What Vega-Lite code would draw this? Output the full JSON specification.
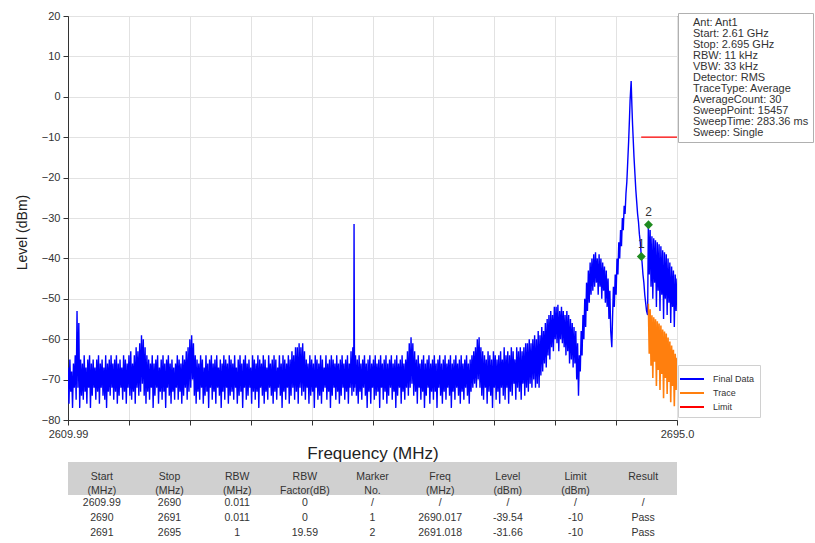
{
  "$schema": "https://vega.github.io/schema/vega-lite/v6.json",
  "background": "white",
  "padding": {"left": 14, "top": 9, "right": 2, "bottom": 2},
  "spacing": 0,
  "config": {
    "font": "Liberation Sans",
    "view": {"stroke": null},
    "axis": {"labelFont": "Liberation Sans", "titleFont": "Liberation Sans"}
  },
  "datasets": {
    "fd": [
      {"f":2610,"v":-67},{"f":2610.125,"v":-76},{"f":2610.25,"v":-65},{"f":2610.375,"v":-73},{"f":2610.5,"v":-68},{"f":2610.625,"v":-77},{"f":2610.75,"v":-66},{"f":2610.875,"v":-72},
      {"f":2611,"v":-64},{"f":2611.125,"v":-75},{"f":2611.25,"v":-53},{"f":2611.375,"v":-72},{"f":2611.5,"v":-56},{"f":2611.625,"v":-77},{"f":2611.75,"v":-65},{"f":2611.875,"v":-74},
      {"f":2612,"v":-66},{"f":2612.125,"v":-75},{"f":2612.25,"v":-64},{"f":2612.375,"v":-73},{"f":2612.5,"v":-67},{"f":2612.625,"v":-76},{"f":2612.75,"v":-65},{"f":2612.875,"v":-72},
      {"f":2613,"v":-64},{"f":2613.125,"v":-77},{"f":2613.25,"v":-66},{"f":2613.375,"v":-74},{"f":2613.5,"v":-65},{"f":2613.625,"v":-72},{"f":2613.75,"v":-67},{"f":2613.875,"v":-75},
      {"f":2614,"v":-65},{"f":2614.125,"v":-73},{"f":2614.25,"v":-64},{"f":2614.375,"v":-76},{"f":2614.5,"v":-66},{"f":2614.625,"v":-72},{"f":2614.75,"v":-65},{"f":2614.875,"v":-74},
      {"f":2615,"v":-67},{"f":2615.125,"v":-75},{"f":2615.25,"v":-64},{"f":2615.375,"v":-77},{"f":2615.5,"v":-66},{"f":2615.625,"v":-73},{"f":2615.75,"v":-65},{"f":2615.875,"v":-74},
      {"f":2616,"v":-64},{"f":2616.125,"v":-72},{"f":2616.25,"v":-66},{"f":2616.375,"v":-75},{"f":2616.5,"v":-65},{"f":2616.625,"v":-73},{"f":2616.75,"v":-64},{"f":2616.875,"v":-76},
      {"f":2617,"v":-66},{"f":2617.125,"v":-74},{"f":2617.25,"v":-65},{"f":2617.375,"v":-72},{"f":2617.5,"v":-67},{"f":2617.625,"v":-75},{"f":2617.75,"v":-64},{"f":2617.875,"v":-73},
      {"f":2618,"v":-65},{"f":2618.125,"v":-76},{"f":2618.25,"v":-66},{"f":2618.375,"v":-72},{"f":2618.5,"v":-64},{"f":2618.625,"v":-74},{"f":2618.75,"v":-63},{"f":2618.875,"v":-75},
      {"f":2619,"v":-66},{"f":2619.125,"v":-73},{"f":2619.25,"v":-64},{"f":2619.375,"v":-76},{"f":2619.5,"v":-62},{"f":2619.625,"v":-72},{"f":2619.75,"v":-63},{"f":2619.875,"v":-74},
      {"f":2620,"v":-61},{"f":2620.125,"v":-73},{"f":2620.25,"v":-59},{"f":2620.375,"v":-71},{"f":2620.5,"v":-60},{"f":2620.625,"v":-74},{"f":2620.75,"v":-62},{"f":2620.875,"v":-76},
      {"f":2621,"v":-64},{"f":2621.125,"v":-73},{"f":2621.25,"v":-65},{"f":2621.375,"v":-75},{"f":2621.5,"v":-66},{"f":2621.625,"v":-72},{"f":2621.75,"v":-64},{"f":2621.875,"v":-77},
      {"f":2622,"v":-66},{"f":2622.125,"v":-74},{"f":2622.25,"v":-65},{"f":2622.375,"v":-72},{"f":2622.5,"v":-64},{"f":2622.625,"v":-76},{"f":2622.75,"v":-67},{"f":2622.875,"v":-73},
      {"f":2623,"v":-65},{"f":2623.125,"v":-75},{"f":2623.25,"v":-64},{"f":2623.375,"v":-73},{"f":2623.5,"v":-66},{"f":2623.625,"v":-77},{"f":2623.75,"v":-65},{"f":2623.875,"v":-72},
      {"f":2624,"v":-64},{"f":2624.125,"v":-74},{"f":2624.25,"v":-66},{"f":2624.375,"v":-76},{"f":2624.5,"v":-65},{"f":2624.625,"v":-73},{"f":2624.75,"v":-67},{"f":2624.875,"v":-75},
      {"f":2625,"v":-66},{"f":2625.125,"v":-72},{"f":2625.25,"v":-64},{"f":2625.375,"v":-75},{"f":2625.5,"v":-65},{"f":2625.625,"v":-73},{"f":2625.75,"v":-66},{"f":2625.875,"v":-76},
      {"f":2626,"v":-64},{"f":2626.125,"v":-74},{"f":2626.25,"v":-65},{"f":2626.375,"v":-72},{"f":2626.5,"v":-63},{"f":2626.625,"v":-75},{"f":2626.75,"v":-62},{"f":2626.875,"v":-73},
      {"f":2627,"v":-60},{"f":2627.125,"v":-72},{"f":2627.25,"v":-59},{"f":2627.375,"v":-70},{"f":2627.5,"v":-61},{"f":2627.625,"v":-74},{"f":2627.75,"v":-64},{"f":2627.875,"v":-76},
      {"f":2628,"v":-65},{"f":2628.125,"v":-73},{"f":2628.25,"v":-66},{"f":2628.375,"v":-75},{"f":2628.5,"v":-64},{"f":2628.625,"v":-72},{"f":2628.75,"v":-65},{"f":2628.875,"v":-76},
      {"f":2629,"v":-67},{"f":2629.125,"v":-74},{"f":2629.25,"v":-64},{"f":2629.375,"v":-73},{"f":2629.5,"v":-66},{"f":2629.625,"v":-77},{"f":2629.75,"v":-65},{"f":2629.875,"v":-72},
      {"f":2630,"v":-64},{"f":2630.125,"v":-75},{"f":2630.25,"v":-66},{"f":2630.375,"v":-73},{"f":2630.5,"v":-65},{"f":2630.625,"v":-76},{"f":2630.75,"v":-64},{"f":2630.875,"v":-72},
      {"f":2631,"v":-67},{"f":2631.125,"v":-74},{"f":2631.25,"v":-65},{"f":2631.375,"v":-77},{"f":2631.5,"v":-66},{"f":2631.625,"v":-73},{"f":2631.75,"v":-64},{"f":2631.875,"v":-75},
      {"f":2632,"v":-65},{"f":2632.125,"v":-72},{"f":2632.25,"v":-66},{"f":2632.375,"v":-76},{"f":2632.5,"v":-64},{"f":2632.625,"v":-74},{"f":2632.75,"v":-65},{"f":2632.875,"v":-73},
      {"f":2633,"v":-66},{"f":2633.125,"v":-75},{"f":2633.25,"v":-64},{"f":2633.375,"v":-72},{"f":2633.5,"v":-67},{"f":2633.625,"v":-76},{"f":2633.75,"v":-65},{"f":2633.875,"v":-74},
      {"f":2634,"v":-64},{"f":2634.125,"v":-73},{"f":2634.25,"v":-66},{"f":2634.375,"v":-77},{"f":2634.5,"v":-65},{"f":2634.625,"v":-72},{"f":2634.75,"v":-64},{"f":2634.875,"v":-75},
      {"f":2635,"v":-66},{"f":2635.125,"v":-74},{"f":2635.25,"v":-65},{"f":2635.375,"v":-72},{"f":2635.5,"v":-67},{"f":2635.625,"v":-76},{"f":2635.75,"v":-64},{"f":2635.875,"v":-73},
      {"f":2636,"v":-65},{"f":2636.125,"v":-75},{"f":2636.25,"v":-66},{"f":2636.375,"v":-73},{"f":2636.5,"v":-64},{"f":2636.625,"v":-77},{"f":2636.75,"v":-65},{"f":2636.875,"v":-72},
      {"f":2637,"v":-66},{"f":2637.125,"v":-74},{"f":2637.25,"v":-64},{"f":2637.375,"v":-76},{"f":2637.5,"v":-65},{"f":2637.625,"v":-73},{"f":2637.75,"v":-67},{"f":2637.875,"v":-75},
      {"f":2638,"v":-64},{"f":2638.125,"v":-72},{"f":2638.25,"v":-66},{"f":2638.375,"v":-74},{"f":2638.5,"v":-65},{"f":2638.625,"v":-76},{"f":2638.75,"v":-64},{"f":2638.875,"v":-73},
      {"f":2639,"v":-65},{"f":2639.125,"v":-75},{"f":2639.25,"v":-67},{"f":2639.375,"v":-72},{"f":2639.5,"v":-64},{"f":2639.625,"v":-74},{"f":2639.75,"v":-66},{"f":2639.875,"v":-77},
      {"f":2640,"v":-64},{"f":2640.125,"v":-73},{"f":2640.25,"v":-65},{"f":2640.375,"v":-75},{"f":2640.5,"v":-66},{"f":2640.625,"v":-72},{"f":2640.75,"v":-64},{"f":2640.875,"v":-76},
      {"f":2641,"v":-65},{"f":2641.125,"v":-74},{"f":2641.25,"v":-63},{"f":2641.375,"v":-72},{"f":2641.5,"v":-64},{"f":2641.625,"v":-75},{"f":2641.75,"v":-62},{"f":2641.875,"v":-73},
      {"f":2642,"v":-62},{"f":2642.125,"v":-76},{"f":2642.25,"v":-61},{"f":2642.375,"v":-72},{"f":2642.5,"v":-62},{"f":2642.625,"v":-74},{"f":2642.75,"v":-61},{"f":2642.875,"v":-73},
      {"f":2643,"v":-63},{"f":2643.125,"v":-75},{"f":2643.25,"v":-65},{"f":2643.375,"v":-72},{"f":2643.5,"v":-66},{"f":2643.625,"v":-76},{"f":2643.75,"v":-64},{"f":2643.875,"v":-74},
      {"f":2644,"v":-65},{"f":2644.125,"v":-73},{"f":2644.25,"v":-66},{"f":2644.375,"v":-77},{"f":2644.5,"v":-64},{"f":2644.625,"v":-72},{"f":2644.75,"v":-65},{"f":2644.875,"v":-75},
      {"f":2645,"v":-66},{"f":2645.125,"v":-74},{"f":2645.25,"v":-64},{"f":2645.375,"v":-76},{"f":2645.5,"v":-65},{"f":2645.625,"v":-73},{"f":2645.75,"v":-67},{"f":2645.875,"v":-72},
      {"f":2646,"v":-64},{"f":2646.125,"v":-75},{"f":2646.25,"v":-66},{"f":2646.375,"v":-73},{"f":2646.5,"v":-65},{"f":2646.625,"v":-77},{"f":2646.75,"v":-64},{"f":2646.875,"v":-74},
      {"f":2647,"v":-65},{"f":2647.125,"v":-72},{"f":2647.25,"v":-66},{"f":2647.375,"v":-75},{"f":2647.5,"v":-64},{"f":2647.625,"v":-73},{"f":2647.75,"v":-66},{"f":2647.875,"v":-76},
      {"f":2648,"v":-65},{"f":2648.125,"v":-74},{"f":2648.25,"v":-64},{"f":2648.375,"v":-72},{"f":2648.5,"v":-66},{"f":2648.625,"v":-75},{"f":2648.75,"v":-65},{"f":2648.875,"v":-73},
      {"f":2649,"v":-64},{"f":2649.125,"v":-76},{"f":2649.25,"v":-66},{"f":2649.375,"v":-72},{"f":2649.5,"v":-63},{"f":2649.625,"v":-74},{"f":2649.75,"v":-62},{"f":2649.875,"v":-73},
      {"f":2649.92,"v":-31.5},{"f":2649.97,"v":-62},
      {"f":2650,"v":-72},{"f":2650.125,"v":-64},{"f":2650.25,"v":-74},{"f":2650.375,"v":-65},{"f":2650.5,"v":-76},{"f":2650.625,"v":-64},{"f":2650.75,"v":-73},{"f":2650.875,"v":-66},
      {"f":2651,"v":-75},{"f":2651.125,"v":-65},{"f":2651.25,"v":-72},{"f":2651.375,"v":-64},{"f":2651.5,"v":-74},{"f":2651.625,"v":-66},{"f":2651.75,"v":-77},{"f":2651.875,"v":-65},
      {"f":2652,"v":-73},{"f":2652.125,"v":-64},{"f":2652.25,"v":-76},{"f":2652.375,"v":-66},{"f":2652.5,"v":-72},{"f":2652.625,"v":-65},{"f":2652.75,"v":-75},{"f":2652.875,"v":-64},
      {"f":2653,"v":-74},{"f":2653.125,"v":-66},{"f":2653.25,"v":-73},{"f":2653.375,"v":-65},{"f":2653.5,"v":-77},{"f":2653.625,"v":-64},{"f":2653.75,"v":-72},{"f":2653.875,"v":-66},
      {"f":2654,"v":-75},{"f":2654.125,"v":-65},{"f":2654.25,"v":-73},{"f":2654.375,"v":-64},{"f":2654.5,"v":-76},{"f":2654.625,"v":-66},{"f":2654.75,"v":-74},{"f":2654.875,"v":-65},
      {"f":2655,"v":-72},{"f":2655.125,"v":-64},{"f":2655.25,"v":-75},{"f":2655.375,"v":-66},{"f":2655.5,"v":-73},{"f":2655.625,"v":-65},{"f":2655.75,"v":-77},{"f":2655.875,"v":-64},
      {"f":2656,"v":-74},{"f":2656.125,"v":-66},{"f":2656.25,"v":-72},{"f":2656.375,"v":-65},{"f":2656.5,"v":-76},{"f":2656.625,"v":-64},{"f":2656.75,"v":-73},{"f":2656.875,"v":-66},
      {"f":2657,"v":-75},{"f":2657.125,"v":-65},{"f":2657.25,"v":-72},{"f":2657.375,"v":-63},{"f":2657.5,"v":-74},{"f":2657.625,"v":-61},{"f":2657.75,"v":-72},{"f":2657.875,"v":-59.5},
      {"f":2658,"v":-71},{"f":2658.125,"v":-61},{"f":2658.25,"v":-74},{"f":2658.375,"v":-63},{"f":2658.5,"v":-73},{"f":2658.625,"v":-65},{"f":2658.75,"v":-76},{"f":2658.875,"v":-64},
      {"f":2659,"v":-72},{"f":2659.125,"v":-66},{"f":2659.25,"v":-75},{"f":2659.375,"v":-65},{"f":2659.5,"v":-73},{"f":2659.625,"v":-64},{"f":2659.75,"v":-77},{"f":2659.875,"v":-66},
      {"f":2660,"v":-74},{"f":2660.125,"v":-65},{"f":2660.25,"v":-72},{"f":2660.375,"v":-64},{"f":2660.5,"v":-76},{"f":2660.625,"v":-66},{"f":2660.75,"v":-73},{"f":2660.875,"v":-65},
      {"f":2661,"v":-75},{"f":2661.125,"v":-64},{"f":2661.25,"v":-73},{"f":2661.375,"v":-66},{"f":2661.5,"v":-77},{"f":2661.625,"v":-65},{"f":2661.75,"v":-72},{"f":2661.875,"v":-64},
      {"f":2662,"v":-74},{"f":2662.125,"v":-66},{"f":2662.25,"v":-76},{"f":2662.375,"v":-65},{"f":2662.5,"v":-73},{"f":2662.625,"v":-64},{"f":2662.75,"v":-75},{"f":2662.875,"v":-66},
      {"f":2663,"v":-72},{"f":2663.125,"v":-65},{"f":2663.25,"v":-74},{"f":2663.375,"v":-64},{"f":2663.5,"v":-77},{"f":2663.625,"v":-66},{"f":2663.75,"v":-73},{"f":2663.875,"v":-65},
      {"f":2664,"v":-75},{"f":2664.125,"v":-64},{"f":2664.25,"v":-72},{"f":2664.375,"v":-66},{"f":2664.5,"v":-74},{"f":2664.625,"v":-65},{"f":2664.75,"v":-76},{"f":2664.875,"v":-64},
      {"f":2665,"v":-73},{"f":2665.125,"v":-66},{"f":2665.25,"v":-75},{"f":2665.375,"v":-65},{"f":2665.5,"v":-72},{"f":2665.625,"v":-64},{"f":2665.75,"v":-74},{"f":2665.875,"v":-66},
      {"f":2666,"v":-76},{"f":2666.125,"v":-65},{"f":2666.25,"v":-73},{"f":2666.375,"v":-64},{"f":2666.5,"v":-72},{"f":2666.625,"v":-63},{"f":2666.75,"v":-71},{"f":2666.875,"v":-62},
      {"f":2667,"v":-72},{"f":2667.125,"v":-60},{"f":2667.25,"v":-70},{"f":2667.375,"v":-59.5},{"f":2667.5,"v":-72},{"f":2667.625,"v":-62},{"f":2667.75,"v":-74},{"f":2667.875,"v":-63},
      {"f":2668,"v":-75},{"f":2668.125,"v":-64},{"f":2668.25,"v":-72},{"f":2668.375,"v":-65},{"f":2668.5,"v":-76},{"f":2668.625,"v":-63},{"f":2668.75,"v":-73},{"f":2668.875,"v":-64},
      {"f":2669,"v":-74},{"f":2669.125,"v":-65},{"f":2669.25,"v":-77},{"f":2669.375,"v":-63},{"f":2669.5,"v":-72},{"f":2669.625,"v":-64},{"f":2669.75,"v":-75},{"f":2669.875,"v":-65},
      {"f":2670,"v":-73},{"f":2670.125,"v":-64},{"f":2670.25,"v":-76},{"f":2670.375,"v":-63},{"f":2670.5,"v":-72},{"f":2670.625,"v":-65},{"f":2670.75,"v":-74},{"f":2670.875,"v":-62},
      {"f":2671,"v":-75},{"f":2671.125,"v":-64},{"f":2671.25,"v":-72},{"f":2671.375,"v":-63},{"f":2671.5,"v":-76},{"f":2671.625,"v":-64},{"f":2671.75,"v":-73},{"f":2671.875,"v":-62},
      {"f":2672,"v":-74},{"f":2672.125,"v":-63},{"f":2672.25,"v":-71},{"f":2672.375,"v":-65},{"f":2672.5,"v":-75},{"f":2672.625,"v":-62},{"f":2672.75,"v":-72},{"f":2672.875,"v":-63},
      {"f":2673,"v":-73},{"f":2673.125,"v":-62},{"f":2673.25,"v":-75},{"f":2673.375,"v":-63},{"f":2673.5,"v":-71},{"f":2673.625,"v":-62},{"f":2673.75,"v":-74},{"f":2673.875,"v":-61},
      {"f":2674,"v":-72},{"f":2674.125,"v":-61},{"f":2674.25,"v":-73},{"f":2674.375,"v":-60},{"f":2674.5,"v":-71},{"f":2674.625,"v":-61},{"f":2674.75,"v":-72},{"f":2674.875,"v":-60},
      {"f":2675,"v":-70},{"f":2675.125,"v":-59},{"f":2675.25,"v":-72},{"f":2675.375,"v":-60},{"f":2675.5,"v":-71},{"f":2675.625,"v":-58},{"f":2675.75,"v":-72},{"f":2675.875,"v":-59},
      {"f":2676,"v":-69},{"f":2676.125,"v":-57},{"f":2676.25,"v":-68},{"f":2676.375,"v":-58},{"f":2676.5,"v":-66},{"f":2676.625,"v":-56},{"f":2676.75,"v":-67},{"f":2676.875,"v":-55},
      {"f":2677,"v":-64},{"f":2677.125,"v":-54},{"f":2677.25,"v":-65},{"f":2677.375,"v":-53},{"f":2677.5,"v":-62},{"f":2677.625,"v":-54},{"f":2677.75,"v":-63},{"f":2677.875,"v":-52},
      {"f":2678,"v":-60},{"f":2678.125,"v":-52},{"f":2678.25,"v":-61},{"f":2678.375,"v":-51.5},{"f":2678.5,"v":-63},{"f":2678.625,"v":-53},{"f":2678.75,"v":-60},{"f":2678.875,"v":-52},
      {"f":2679,"v":-61},{"f":2679.125,"v":-53},{"f":2679.25,"v":-62},{"f":2679.375,"v":-54},{"f":2679.5,"v":-64},{"f":2679.625,"v":-53},{"f":2679.75,"v":-63},{"f":2679.875,"v":-54},
      {"f":2680,"v":-66},{"f":2680.125,"v":-55},{"f":2680.25,"v":-65},{"f":2680.375,"v":-56},{"f":2680.5,"v":-67},{"f":2680.625,"v":-57},{"f":2680.75,"v":-66},{"f":2680.875,"v":-58},
      {"f":2681,"v":-70},{"f":2681.125,"v":-61},{"f":2681.25,"v":-74},{"f":2681.375,"v":-64},{"f":2681.5,"v":-68},{"f":2681.625,"v":-58},{"f":2681.75,"v":-64},{"f":2681.875,"v":-54},
      {"f":2682,"v":-60},{"f":2682.125,"v":-50},{"f":2682.25,"v":-57},{"f":2682.375,"v":-46},{"f":2682.5,"v":-53},{"f":2682.625,"v":-43},{"f":2682.75,"v":-51},{"f":2682.875,"v":-41},
      {"f":2683,"v":-49},{"f":2683.125,"v":-40},{"f":2683.25,"v":-48},{"f":2683.375,"v":-39},{"f":2683.5,"v":-47},{"f":2683.625,"v":-38.5},{"f":2683.75,"v":-46},{"f":2683.875,"v":-40},
      {"f":2684,"v":-49},{"f":2684.125,"v":-39},{"f":2684.25,"v":-47},{"f":2684.375,"v":-40},{"f":2684.5,"v":-50},{"f":2684.625,"v":-41},{"f":2684.75,"v":-48},{"f":2684.875,"v":-42},
      {"f":2685,"v":-51},{"f":2685.125,"v":-43},{"f":2685.25,"v":-52},{"f":2685.375,"v":-45},{"f":2685.5,"v":-55},{"f":2685.625,"v":-48},{"f":2685.75,"v":-58},{"f":2685.9,"v":-62},
      {"f":2686,"v":-55},{"f":2686.125,"v":-47},{"f":2686.25,"v":-52},{"f":2686.375,"v":-44},{"f":2686.5,"v":-49},{"f":2686.625,"v":-40},{"f":2686.75,"v":-44},{"f":2686.875,"v":-36},
      {"f":2687,"v":-40},{"f":2687.125,"v":-33},{"f":2687.25,"v":-37},{"f":2687.375,"v":-30},{"f":2687.5,"v":-33},{"f":2687.625,"v":-27},{"f":2687.75,"v":-29},{"f":2687.875,"v":-24},
      {"f":2688,"v":-21},{"f":2688.125,"v":-16},{"f":2688.25,"v":-11},{"f":2688.375,"v":-5},{"f":2688.45,"v":-1},{"f":2688.6,"v":3.9},{"f":2688.7,"v":-2},{"f":2688.8,"v":-7},
      {"f":2689,"v":-15},{"f":2689.125,"v":-19},{"f":2689.25,"v":-23},{"f":2689.375,"v":-26},{"f":2689.5,"v":-29},{"f":2689.625,"v":-31},{"f":2689.75,"v":-34},{"f":2689.875,"v":-36},
      {"f":2690,"v":-39},{"f":2690.125,"v":-41},{"f":2690.25,"v":-44},{"f":2690.375,"v":-46},{"f":2690.5,"v":-49},{"f":2690.625,"v":-51},{"f":2690.75,"v":-53},{"f":2690.9,"v":-54},
      {"f":2691,"v":-31.66},{"f":2691.125,"v":-44},{"f":2691.25,"v":-33},{"f":2691.375,"v":-47},{"f":2691.5,"v":-34.5},{"f":2691.625,"v":-50},{"f":2691.75,"v":-35},{"f":2691.875,"v":-46},
      {"f":2692,"v":-35.5},{"f":2692.125,"v":-52},{"f":2692.25,"v":-36},{"f":2692.375,"v":-48},{"f":2692.5,"v":-36.5},{"f":2692.625,"v":-53},{"f":2692.75,"v":-37},{"f":2692.875,"v":-49},
      {"f":2693,"v":-38},{"f":2693.125,"v":-55},{"f":2693.25,"v":-38.5},{"f":2693.375,"v":-50},{"f":2693.5,"v":-39},{"f":2693.625,"v":-54},{"f":2693.75,"v":-40},{"f":2693.875,"v":-51},
      {"f":2694,"v":-41},{"f":2694.125,"v":-56},{"f":2694.25,"v":-42},{"f":2694.375,"v":-52},{"f":2694.5,"v":-43},{"f":2694.625,"v":-57},{"f":2694.75,"v":-44},{"f":2694.875,"v":-53},
      {"f":2695,"v":-45}
    ],
    "tr": [
      {"f":2691,"v":-51.25},{"f":2691.125,"v":-63.59},{"f":2691.25,"v":-52.59},{"f":2691.375,"v":-66.59},{"f":2691.5,"v":-54.09},{"f":2691.625,"v":-69.59},{"f":2691.75,"v":-54.59},{"f":2691.875,"v":-65.59},
      {"f":2692,"v":-55.09},{"f":2692.125,"v":-71.59},{"f":2692.25,"v":-55.59},{"f":2692.375,"v":-67.59},{"f":2692.5,"v":-56.09},{"f":2692.625,"v":-72.59},{"f":2692.75,"v":-56.59},{"f":2692.875,"v":-68.59},
      {"f":2693,"v":-57.59},{"f":2693.125,"v":-74.59},{"f":2693.25,"v":-58.09},{"f":2693.375,"v":-69.59},{"f":2693.5,"v":-58.59},{"f":2693.625,"v":-73.59},{"f":2693.75,"v":-59.59},{"f":2693.875,"v":-70.59},
      {"f":2694,"v":-60.59},{"f":2694.125,"v":-75.59},{"f":2694.25,"v":-61.59},{"f":2694.375,"v":-71.59},{"f":2694.5,"v":-62.59},{"f":2694.625,"v":-76.59},{"f":2694.75,"v":-63.59},{"f":2694.875,"v":-72.59},
      {"f":2695,"v":-64.59}
    ],
    "lim": [{"f":2690,"v":-10},{"f":2695,"v":-10}],
    "mk": [{"f":2690.017,"v":-39.54,"n":"1"},{"f":2691.018,"v":-31.66,"n":"2"}],
    "info": [
      {"t":"Ant: Ant1"},{"t":"Start: 2.61 GHz"},{"t":"Stop: 2.695 GHz"},{"t":"RBW: 11 kHz"},{"t":"VBW: 33 kHz"},{"t":"Detector: RMS"},
      {"t":"TraceType: Average"},{"t":"AverageCount: 30"},{"t":"SweepPoint: 15457"},{"t":"SweepTime: 283.36 ms"},{"t":"Sweep: Single"}
    ],
    "hdr": [
      {"c":"Start","t":"Start\n(MHz)"},{"c":"Stop","t":"Stop\n(MHz)"},{"c":"RBW","t":"RBW\n(MHz)"},{"c":"RBW Factor","t":"RBW\nFactor(dB)"},
      {"c":"Marker No.","t":"Marker\nNo."},{"c":"Freq","t":"Freq\n(MHz)"},{"c":"Level","t":"Level\n(dBm)"},{"c":"Limit","t":"Limit\n(dBm)"},{"c":"Result","t":"Result"}
    ],
    "tbl": [
      {"r":1,"c":"Start","t":"2609.99"},{"r":1,"c":"Stop","t":"2690"},{"r":1,"c":"RBW","t":"0.011"},{"r":1,"c":"RBW Factor","t":"0"},{"r":1,"c":"Marker No.","t":"/"},{"r":1,"c":"Freq","t":"/"},{"r":1,"c":"Level","t":"/"},{"r":1,"c":"Limit","t":"/"},{"r":1,"c":"Result","t":"/"},
      {"r":2,"c":"Start","t":"2690"},{"r":2,"c":"Stop","t":"2691"},{"r":2,"c":"RBW","t":"0.011"},{"r":2,"c":"RBW Factor","t":"0"},{"r":2,"c":"Marker No.","t":"1"},{"r":2,"c":"Freq","t":"2690.017"},{"r":2,"c":"Level","t":"-39.54"},{"r":2,"c":"Limit","t":"-10"},{"r":2,"c":"Result","t":"Pass"},
      {"r":3,"c":"Start","t":"2691"},{"r":3,"c":"Stop","t":"2695"},{"r":3,"c":"RBW","t":"1"},{"r":3,"c":"RBW Factor","t":"19.59"},{"r":3,"c":"Marker No.","t":"2"},{"r":3,"c":"Freq","t":"2691.018"},{"r":3,"c":"Level","t":"-31.66"},{"r":3,"c":"Limit","t":"-10"},{"r":3,"c":"Result","t":"Pass"}
    ]
  },
  "vconcat": [
    {
      "width": 609,
      "height": 404,
      "view": {"stroke": "#222", "strokeWidth": 1},
      "layer": [
        {
          "data": {"name": "fd"},
          "mark": {"type": "line", "strokeWidth": 1.4, "clip": true},
          "encoding": {
            "x": {
              "field": "f", "type": "quantitative",
              "scale": {"domain": [2609.99, 2695.0], "nice": false, "zero": false},
              "axis": {
                "title": "Frequency (MHz)",
                "values": [2609.99, 2618.491, 2626.992, 2635.493, 2643.994, 2652.495, 2660.996, 2669.497, 2677.998, 2686.499, 2695.0],
                "labelExpr": "datum.value < 2610 ? '2609.99' : (datum.value > 2694.9 ? '2695.0' : '')",
                "labelFlush": false, "labelOverlap": false,
                "labelFontSize": 11, "labelColor": "#333", "labelPadding": 3,
                "tickSize": 5, "tickColor": "#333", "domainColor": "#333",
                "titleFontSize": 17, "titleFontWeight": "normal", "titleColor": "#222", "titlePadding": 6,
                "grid": true, "gridColor": "#e2e2e2"
              }
            },
            "y": {
              "field": "v", "type": "quantitative",
              "scale": {"domain": [-80, 20], "nice": false, "zero": false},
              "axis": {
                "title": "Level (dBm)",
                "values": [-80, -70, -60, -50, -40, -30, -20, -10, 0, 10, 20],
                "labelFontSize": 11, "labelColor": "#333", "labelPadding": 3,
                "tickSize": 5, "tickColor": "#333", "domainColor": "#333",
                "titleFontSize": 14, "titleFontWeight": "normal", "titleColor": "#222", "titlePadding": 12, "titleY": 216,
                "grid": true, "gridColor": "#e2e2e2"
              }
            },
            "color": {
              "datum": "Final Data",
              "scale": {"domain": ["Final Data", "Trace", "Limit"], "range": ["#0000ff", "#ff7f0e", "#ff0000"]},
              "legend": {
                "orient": "none", "legendX": 610, "legendY": 349, "title": null,
                "symbolType": "M-1.5,0H1.5", "symbolSize": 256, "symbolStrokeWidth": 2,
                "labelFontSize": 9, "labelColor": "#333", "labelOffset": 12,
                "strokeColor": "#d0d0d0", "fillColor": "white", "padding": 5, "rowPadding": 0
              }
            }
          }
        },
        {
          "data": {"name": "tr"},
          "mark": {"type": "line", "strokeWidth": 1.6, "clip": true},
          "encoding": {
            "x": {"field": "f", "type": "quantitative"},
            "y": {"field": "v", "type": "quantitative"},
            "color": {"datum": "Trace"}
          }
        },
        {
          "data": {"name": "lim"},
          "mark": {"type": "line", "strokeWidth": 1.2, "clip": true},
          "encoding": {
            "x": {"field": "f", "type": "quantitative"},
            "y": {"field": "v", "type": "quantitative"},
            "color": {"datum": "Limit"}
          }
        },
        {
          "data": {"name": "mk"},
          "mark": {"type": "point", "shape": "diamond", "filled": true, "color": "#1f8b1f", "size": 80, "opacity": 1},
          "encoding": {
            "x": {"field": "f", "type": "quantitative"},
            "y": {"field": "v", "type": "quantitative"}
          }
        },
        {
          "data": {"name": "mk"},
          "mark": {"type": "text", "dy": -13, "fontSize": 12, "color": "#333"},
          "encoding": {
            "x": {"field": "f", "type": "quantitative"},
            "y": {"field": "v", "type": "quantitative"},
            "text": {"field": "n"}
          }
        },
        {
          "data": {"name": "info"},
          "mark": {"type": "point", "opacity": 0},
          "encoding": {
            "shape": {
              "field": "t", "type": "nominal",
              "scale": {"domain": ["Ant: Ant1", "Start: 2.61 GHz", "Stop: 2.695 GHz", "RBW: 11 kHz", "VBW: 33 kHz", "Detector: RMS", "TraceType: Average", "AverageCount: 30", "SweepPoint: 15457", "SweepTime: 283.36 ms", "Sweep: Single"]},
              "legend": {
                "orient": "none", "legendX": 610, "legendY": -3, "title": null,
                "symbolOpacity": 0, "symbolSize": 1, "symbolStrokeWidth": 0, "labelOffset": 0,
                "labelFontSize": 11, "labelColor": "#333", "labelLimit": 300,
                "strokeColor": "#b0b0b0", "fillColor": "white", "padding": 4, "rowPadding": -1.4
              }
            }
          }
        }
      ]
    },
    {
      "width": 609,
      "height": 33,
      "view": {"fill": "#d0d0d0", "stroke": null},
      "data": {"name": "hdr"},
      "mark": {"type": "text", "lineBreak": "\n", "baseline": "middle", "fontSize": 10.5, "color": "#333", "lineHeight": 14, "dy": -2},
      "encoding": {
        "x": {"field": "c", "type": "nominal", "sort": null,
              "scale": {"domain": ["Start", "Stop", "RBW", "RBW Factor", "Marker No.", "Freq", "Level", "Limit", "Result"], "paddingInner": 0, "paddingOuter": 0},
              "axis": null},
        "text": {"field": "t"}
      }
    },
    {
      "width": 609,
      "height": 44,
      "view": {"stroke": null},
      "data": {"name": "tbl"},
      "mark": {"type": "text", "baseline": "middle", "fontSize": 10.5, "color": "#333"},
      "encoding": {
        "x": {"field": "c", "type": "nominal",
              "scale": {"domain": ["Start", "Stop", "RBW", "RBW Factor", "Marker No.", "Freq", "Level", "Limit", "Result"], "paddingInner": 0, "paddingOuter": 0},
              "axis": null},
        "y": {"field": "r", "type": "ordinal", "scale": {"domain": [1, 2, 3], "paddingInner": 0, "paddingOuter": 0}, "axis": null},
        "text": {"field": "t"}
      }
    }
  ]
}
